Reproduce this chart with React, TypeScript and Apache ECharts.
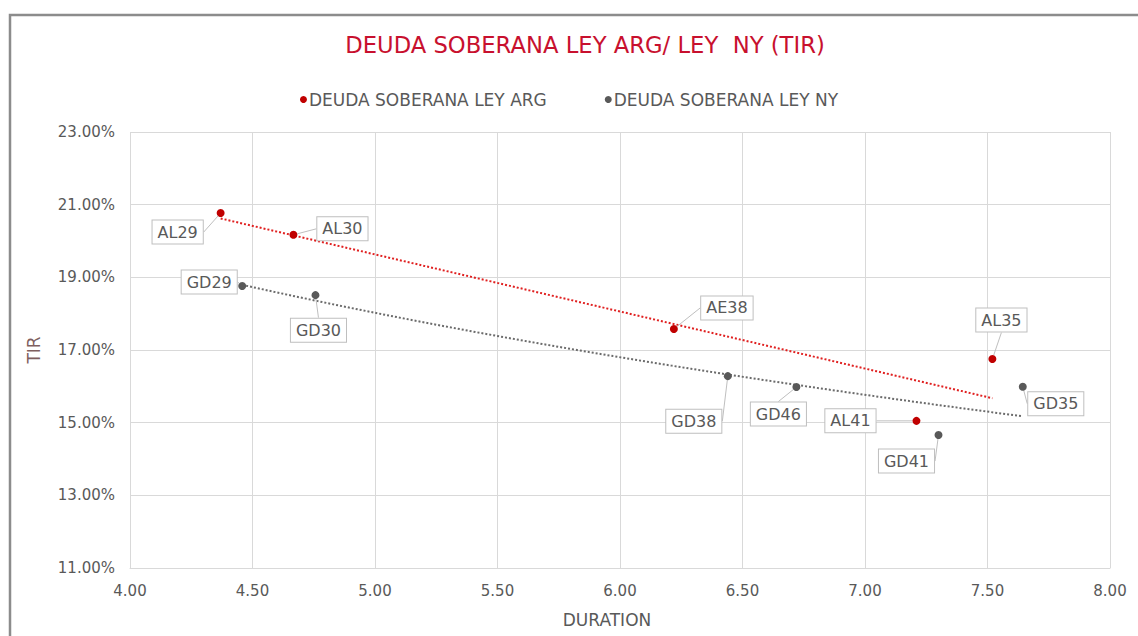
import React, { useEffect, useRef } from "react";
import * as echarts from "echarts";

// ---- Data ----
const argNames = ["AL29", "AL30", "AE38", "AL35", "AL41"];
const argDuration = [4.37, 4.667, 6.22, 7.52, 7.21];
const argTir = [20.77, 20.17, 17.58, 16.75, 15.05];

const nyNames = ["GD29", "GD30", "GD38", "GD46", "GD41", "GD35"];
const nyDuration = [4.458, 4.757, 6.44, 6.72, 7.3, 7.644];
const nyTir = [18.76, 18.51, 16.28, 15.98, 14.66, 15.99];

const xTicks = { min: 4, max: 8, interval: 0.5 };
const yTicks = { min: 11, max: 23, interval: 2 };

// label offsets (layout only)
const argLabelOffsets = [
  [-43, 19],
  [49, -6],
  [53, -21],
  [9, -39],
  [-66, 0],
];
const nyLabelOffsets = [
  [-33, -4],
  [3, 35],
  [-34, 45],
  [-18, 27],
  [-32, 26],
  [33, 17],
];

// ---- Trendlines (least squares, like the spreadsheet) ----
function linearFit(xs: number[], ys: number[]) {
  const n = xs.length;
  const mx = xs.reduce((a, b) => a + b, 0) / n;
  const my = ys.reduce((a, b) => a + b, 0) / n;
  let sxy = 0,
    sxx = 0;
  for (let i = 0; i < n; i++) {
    sxy += (xs[i] - mx) * (ys[i] - my);
    sxx += (xs[i] - mx) * (xs[i] - mx);
  }
  const b = sxy / sxx;
  return { a: my - b * mx, b };
}

function trendPoints(xs: number[], ys: number[], log: boolean) {
  const tx = log ? xs.map((v) => Math.log(v)) : xs;
  const { a, b } = linearFit(tx, ys);
  const lo = Math.min(...xs);
  const hi = Math.max(...xs);
  const steps = 40;
  const pts: number[][] = [];
  for (let i = 0; i <= steps; i++) {
    const x = lo + ((hi - lo) * i) / steps;
    pts.push([x, a + b * (log ? Math.log(x) : x)]);
  }
  return pts;
}

const RED = "#c00000";
const GRAY = "#595959";
const FONT = "DejaVu Sans";

export default function App() {
  const ref = useRef<HTMLDivElement>(null);

  useEffect(() => {
    document.body.style.margin = "0";
    if (!ref.current) return;
    const chart = echarts.init(ref.current, undefined, { renderer: "svg" });

    const labelCommon = {
      show: true,
      position: "inside",
      align: "center",
      verticalAlign: "middle",
      fontFamily: FONT,
      fontSize: 16,
      color: "#595959",
      backgroundColor: "#ffffff",
      borderColor: "#bfbfbf",
      borderWidth: 1,
      padding: [4, 5, 3, 5],
      formatter: (p: any) => p.data[2],
    };

    chart.setOption({
      animation: false,
      backgroundColor: "#ffffff",
      title: {
        text: "DEUDA SOBERANA LEY ARG/ LEY  NY (TIR)",
        left: 580,
        textAlign: "center",
        top: 28,
        textStyle: {
          color: "#c8102e",
          fontFamily: FONT,
          fontSize: 22.7,
          fontWeight: "normal",
        },
      },
      legend: {
        data: ["DEUDA SOBERANA LEY ARG", "DEUDA SOBERANA LEY NY"],
        top: 86,
        left: "center",
        icon: "circle",
        itemWidth: 7,
        itemHeight: 7,
        itemGap: 58,
        textStyle: { color: "#595959", fontFamily: FONT, fontSize: 17, padding: [0, 0, 0, -3] },
      },
      grid: { left: 130, right: 28, top: 132, bottom: 68 },
      xAxis: {
        type: "value",
        min: xTicks.min,
        max: xTicks.max,
        interval: xTicks.interval,
        name: "DURATION",
        nameLocation: "middle",
        nameGap: 43,
        nameTextStyle: { color: "#595959", fontFamily: FONT, fontSize: 17, padding: [0, 26, 0, 0] },
        axisLine: { show: true, lineStyle: { color: "#d9d9d9" } },
        axisTick: { show: false },
        axisLabel: {
          color: "#595959",
          fontFamily: FONT,
          fontSize: 15,
          margin: 15,
          formatter: (v: number) => v.toFixed(2),
        },
        splitLine: { show: true, lineStyle: { color: "#d9d9d9" } },
      },
      yAxis: {
        type: "value",
        min: yTicks.min,
        max: yTicks.max,
        interval: yTicks.interval,
        name: "TIR",
        nameLocation: "middle",
        nameGap: 88,
        nameRotate: 90,
        nameTextStyle: { color: "#7f5f5f", fontFamily: FONT, fontSize: 17 },
        axisLine: { show: false },
        axisTick: { show: false },
        axisLabel: {
          color: "#595959",
          fontFamily: FONT,
          fontSize: 15,
          margin: 15,
          formatter: (v: number) => v.toFixed(2) + "%",
        },
        splitLine: { show: true, lineStyle: { color: "#d9d9d9" } },
      },
      graphic: [
        {
          type: "polyline",
          silent: true,
          shape: {
            points: [
              [10, 640],
              [10, 15],
              [1140, 15],
            ],
          },
          style: { stroke: "#8c8c8c", lineWidth: 2.5, fill: null },
        },
      ],
      series: [
        {
          name: "ARG trend",
          type: "line",
          data: trendPoints(argDuration, argTir, false),
          showSymbol: false,
          silent: true,
          lineStyle: { color: "#e02020", width: 2, type: [2, 2] },
          z: 1,
        },
        {
          name: "NY trend",
          type: "line",
          data: trendPoints(nyDuration, nyTir, true),
          showSymbol: false,
          silent: true,
          smooth: false,
          lineStyle: { color: "#6b6b6b", width: 2, type: [2, 2] },
          z: 1,
        },
        {
          name: "DEUDA SOBERANA LEY ARG",
          type: "scatter",
          symbolSize: 8,
          itemStyle: { color: RED, opacity: 1 },
          data: argDuration.map((x, i) => [x, argTir[i], argNames[i]]),
          label: labelCommon,
          labelLine: { show: true, lineStyle: { color: "#bfbfbf", width: 1 } },
          labelLayout: (p: any) => {
            const o = argLabelOffsets[p.dataIndex];
            return { dx: o[0], dy: o[1] };
          },
          z: 3,
        },
        {
          name: "DEUDA SOBERANA LEY NY",
          type: "scatter",
          symbolSize: 8,
          itemStyle: { color: GRAY, opacity: 1 },
          data: nyDuration.map((x, i) => [x, nyTir[i], nyNames[i]]),
          label: labelCommon,
          labelLine: { show: true, lineStyle: { color: "#bfbfbf", width: 1 } },
          labelLayout: (p: any) => {
            const o = nyLabelOffsets[p.dataIndex];
            return { dx: o[0], dy: o[1] };
          },
          z: 3,
        },
      ],
    });

    return () => chart.dispose();
  }, []);

  return <div ref={ref} style={{ width: 1138, height: 636 }} />;
}
